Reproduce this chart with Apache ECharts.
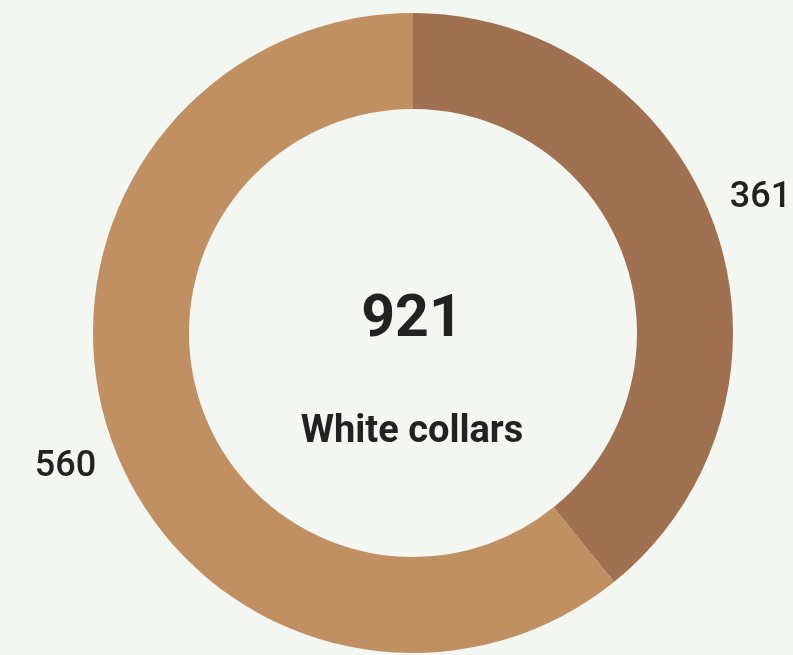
<!DOCTYPE html>
<html>
<head>
<meta charset="utf-8">
<script src="https://cdn.jsdelivr.net/npm/echarts@6/dist/echarts.min.js"></script>
<style>
  html, body { margin: 0; padding: 0; background: #F4F6F1; }
  #chart { width: 793px; height: 655px; }
</style>
</head>
<body>
<div id="chart"></div>
<script>
'use strict';

// ── Data ──────────────────────────────────────────────────────────────────────
const sliceNames  = ['A', 'B'];
const sliceValues = [361, 560];
const sliceColors = ['#A07150', '#C08F62'];
const centerLabel = 'White collars';
const labelShiftY = [-28, 27];

const total = sliceValues.reduce((a, b) => a + b, 0);
const CX = 413, CY = 333;

// ── Chart ─────────────────────────────────────────────────────────────────────
const chart = echarts.init(document.getElementById('chart'), null, { renderer: 'canvas' });

chart.setOption({
  backgroundColor: '#F4F6F1',
  animation: false,
  title: [
    {
      text: String(total),
      left: CX - 6,
      textAlign: 'center',
      top: 287,
      textStyle: { fontFamily: 'Roboto', fontSize: 59, fontWeight: 'bold', color: '#222222' },
    },
    {
      text: centerLabel,
      left: CX - 6,
      textAlign: 'center',
      top: 408,
      textStyle: { fontFamily: 'Roboto', fontSize: 38, fontWeight: 'bold', color: '#222222' },
    },
  ],
  series: [{
    type: 'pie',
    center: [CX, CY],
    radius: [224, 320],
    startAngle: 90,
    clockwise: true,
    avoidLabelOverlap: false,
    itemStyle: { borderWidth: 0 },
    label: {
      show: true,
      position: 'outside',
      formatter: p => p.value,
      fontFamily: 'Roboto',
      fontSize: 36,
      fontWeight: 500,
      color: '#222222',
      distanceToLabelLine: 5,
    },
    labelLine: { show: false, length: 0, length2: 10 },
    labelLayout: p => ({ dy: labelShiftY[p.dataIndex] }),
    emphasis: { disabled: true },
    data: sliceValues.map((v, i) => ({
      name: sliceNames[i],
      value: v,
      itemStyle: { color: sliceColors[i] },
    })),
  }],
});
</script>
</body>
</html>
